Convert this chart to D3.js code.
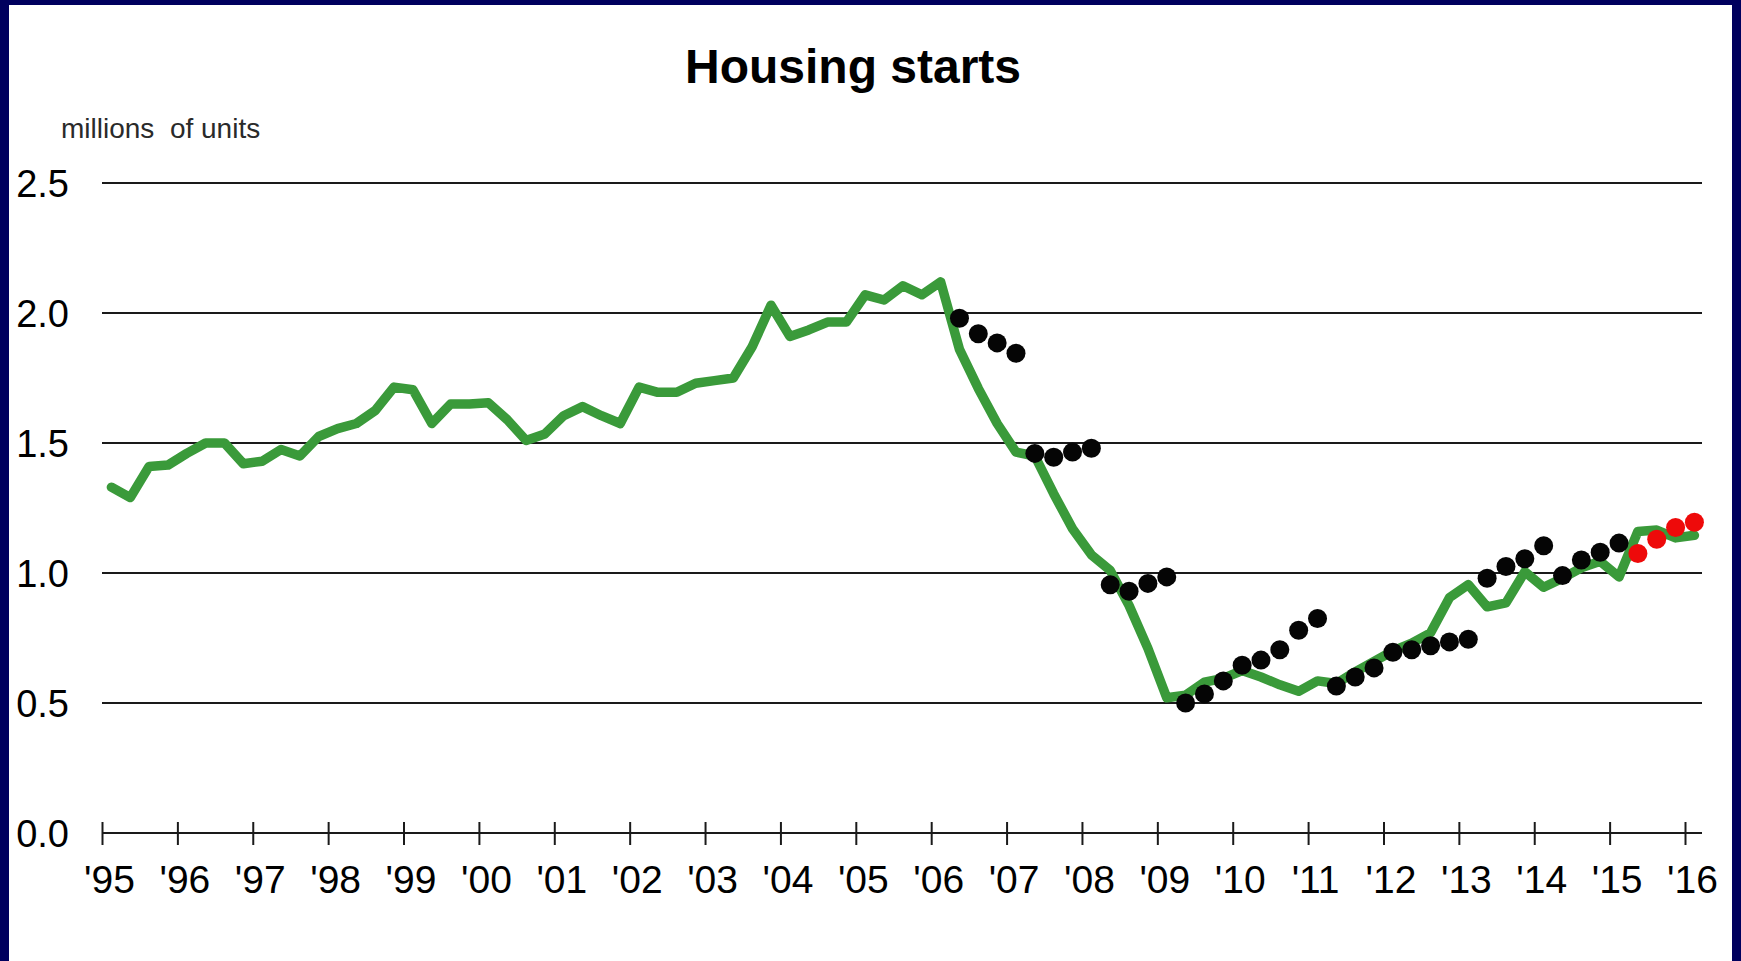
<!DOCTYPE html>
<html>
<head>
<meta charset="utf-8">
<script src="https://cdn.jsdelivr.net/npm/d3@7"></script>
<style>
  html, body { margin: 0; padding: 0; background: #ffffff; }
  svg { display: block; }
  text { font-family: "Liberation Sans", Arial, sans-serif; }
</style>
</head>
<body>
<svg id="chart" width="1741" height="961"></svg>
<script>
// ---- data -------------------------------------------------------------
// Housing starts, quarterly, millions of units (1995Q1 .. 2016Q1)
const seriesStart = "1995Q1";
const starts = [
  1.33, 1.29, 1.41, 1.415,      // 1995
  1.46, 1.50, 1.50, 1.42,       // 1996
  1.43, 1.475, 1.45, 1.525,     // 1997
  1.555, 1.575, 1.625, 1.715,   // 1998
  1.705, 1.575, 1.65, 1.65,     // 1999
  1.655, 1.59, 1.51, 1.535,     // 2000
  1.605, 1.64, 1.605, 1.575,    // 2001
  1.715, 1.695, 1.695, 1.73,    // 2002
  1.74, 1.75, 1.87, 2.03,       // 2003
  1.91, 1.935, 1.965, 1.965,    // 2004
  2.07, 2.05, 2.105, 2.07,      // 2005
  2.12, 1.86, 1.71, 1.575,      // 2006
  1.465, 1.45, 1.305, 1.17,     // 2007
  1.07, 1.01, 0.875, 0.71,      // 2008
  0.52, 0.53, 0.58, 0.595,      // 2009
  0.625, 0.60, 0.57, 0.545,     // 2010
  0.585, 0.575, 0.62, 0.66,     // 2011
  0.70, 0.73, 0.77, 0.905,      // 2012
  0.955, 0.87, 0.885, 1.005,    // 2013
  0.945, 0.98, 1.02, 1.045,     // 2014
  0.985, 1.16, 1.165, 1.135,    // 2015
  1.145                         // 2016
];

// Four-quarter forecast paths (first forecast quarter of each path)
const forecastStarts = ["2006Q2", "2007Q2", "2008Q2", "2009Q2", "2010Q2",
                        "2011Q2", "2012Q2", "2013Q2", "2014Q2"];
const forecastValues = [
  [1.98, 1.92, 1.885, 1.845],
  [1.46, 1.445, 1.465, 1.48],
  [0.955, 0.93, 0.96, 0.985],
  [0.50, 0.535, 0.585, 0.645],
  [0.665, 0.705, 0.78, 0.825],
  [0.565, 0.60, 0.635, 0.695],
  [0.705, 0.72, 0.735, 0.745],
  [0.98, 1.025, 1.055, 1.105],
  [0.99, 1.05, 1.08, 1.115]
];
// Latest forecast path
const latestStart = "2015Q2";
const latestValues = [1.075, 1.13, 1.175, 1.195];

const yearTicks = d3.range(1995, 2017);
const valueTicks = [0, 0.5, 1.0, 1.5, 2.0, 2.5];

const titleText = "Housing starts";
const unitText = "millions  of units";

// ---- layout -----------------------------------------------------------
const W = 1741, H = 961;
const plotLeft = 102, plotRight = 1702, plotTop = 183, plotBottom = 833;
const navy = "#00005e";
const green = "#3a9a3a";

// quarter label -> fractional year at the middle of that quarter
function quarterIndex(label) {
  const yr = +label.slice(0, 4), q = +label.slice(5);
  return yr * 4 + (q - 1);
}
function quarterTime(idx) {
  return Math.floor(idx / 4) + ((idx % 4) + 0.5) / 4;
}

const x = d3.scaleLinear().domain([1995, 2016]).range([plotLeft, 1685]);
const y = d3.scaleLinear().domain([0, 2.5]).range([plotBottom, plotTop]);

const svg = d3.select("#chart");

// slide frame
svg.append("rect").attr("width", W).attr("height", H).attr("fill", navy);
svg.append("rect").attr("x", 9).attr("y", 5)
  .attr("width", 1732 - 9).attr("height", H - 5).attr("fill", "#ffffff");

// title
svg.append("text")
  .attr("x", 853).attr("y", 83)
  .attr("text-anchor", "middle")
  .attr("font-size", 48).attr("font-weight", "bold").attr("fill", "#000")
  .text(titleText);

// unit label
svg.append("text")
  .attr("x", 61).attr("y", 138)
  .attr("font-size", 28).attr("fill", "#2a2a2a")
  .style("white-space", "pre")
  .text(unitText);

// horizontal grid lines
svg.append("g")
  .selectAll("line")
  .data(valueTicks.filter(v => v > 0))
  .join("line")
  .attr("x1", plotLeft).attr("x2", plotRight)
  .attr("y1", d => y(d)).attr("y2", d => y(d))
  .attr("stroke", "#1a1a1a").attr("stroke-width", 2);

// y axis labels
const yAxis = svg.append("g")
  .attr("transform", "translate(69,0)")
  .call(d3.axisLeft(y).tickValues(valueTicks).tickFormat(d3.format(".1f"))
    .tickSize(0).tickPadding(0));
yAxis.select(".domain").remove();
yAxis.attr("font-family", null).attr("font-size", null);
yAxis.selectAll("text")
  .attr("font-size", 38).attr("fill", "#000").attr("dy", "0.36em");

// x axis: base line with ticks crossing it
svg.append("line")
  .attr("x1", plotLeft).attr("x2", plotRight)
  .attr("y1", y(0)).attr("y2", y(0))
  .attr("stroke", "#1a1a1a").attr("stroke-width", 2);

const xAxis = svg.append("g")
  .attr("transform", `translate(0,${y(0)})`)
  .call(d3.axisBottom(x).tickValues(yearTicks)
    .tickFormat(d => "'" + String(d).slice(2))
    .tickSizeInner(12).tickSizeOuter(0));
xAxis.select(".domain").remove();
xAxis.attr("font-family", null).attr("font-size", null);
xAxis.selectAll(".tick line")
  .attr("y1", -11).attr("y2", 12)
  .attr("stroke", "#1a1a1a").attr("stroke-width", 2);
xAxis.selectAll(".tick text")
  .attr("font-size", 39).attr("fill", "#000")
  .attr("x", 7).attr("y", 60).attr("dy", 0);

// actual starts line
const startIdx = quarterIndex(seriesStart);
const lineData = starts.map((v, i) => ({ t: quarterTime(startIdx + i), v }));
svg.append("path")
  .datum(lineData)
  .attr("fill", "none")
  .attr("stroke", green)
  .attr("stroke-width", 9.5)
  .attr("stroke-linejoin", "round")
  .attr("stroke-linecap", "round")
  .attr("d", d3.line().x(d => x(d.t)).y(d => y(d.v)));

// forecast paths (black), latest forecast (red)
const pastDots = [];
forecastStarts.forEach((s, k) => {
  const i0 = quarterIndex(s);
  forecastValues[k].forEach((v, j) => pastDots.push({ t: quarterTime(i0 + j), v }));
});
const latestDots = latestValues.map((v, j) =>
  ({ t: quarterTime(quarterIndex(latestStart) + j), v }));

svg.append("g").selectAll("circle")
  .data(pastDots).join("circle")
  .attr("cx", d => x(d.t)).attr("cy", d => y(d.v))
  .attr("r", 9.5).attr("fill", "#050505");

svg.append("g").selectAll("circle")
  .data(latestDots).join("circle")
  .attr("cx", d => x(d.t)).attr("cy", d => y(d.v))
  .attr("r", 9.5).attr("fill", "#ee0a0a");
</script>
</body>
</html>
